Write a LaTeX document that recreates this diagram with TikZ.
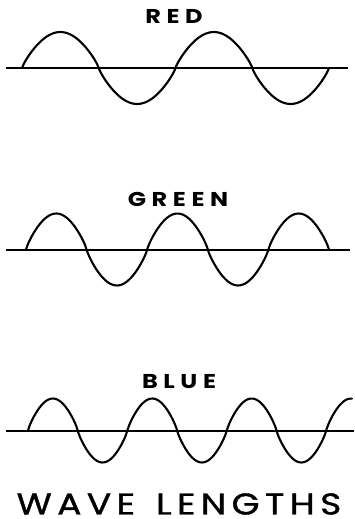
\documentclass[tikz,border=0pt]{standalone}
\usepackage{fontspec}
\setmainfont{Poppins}[FakeStretch=1.2]
\usetikzlibrary{positioning}

\begin{document}
\begin{tikzpicture}[x=1pt, y=-1pt,
            axis/.style={line width=2pt},
            wave/.style={line width=2.1pt, line join=round, line cap=round},
            colname/.style={inner sep=0pt, font=\fontsize{20}{20}\selectfont\bfseries\addfontfeature{LetterSpace=28}},
            heading/.style={inner sep=0pt, font=\fontsize{30}{30}\selectfont\addfontfeature{LetterSpace=18,FakeBold=1.2}},
            declare function={lobe(\t)=sin(\t)/(abs(sin(\t))+0.001)^0.18;}
        ]
            \useasboundingbox (0,0) rectangle (354,519);

            % red: two full waves
            \node [colname] (red) at (174,16) {RED};
            \draw [axis] (6,68) -- (348,68);
            \draw [wave] plot [domain=22:329, samples=160] (\x, {68 - 36*lobe((\x-22)/76.75*180)});

            % green: five half waves
            \node [colname] (green) at (178,199) {GREEN};
            \draw [axis] (6,249.5) -- (350,249.5);
            \draw [wave] plot [domain=26:329, samples=160] (\x, {249.5 - 36*lobe((\x-26)/60.6*180)});

            % blue: runs off the right edge
            \node [colname] (blue) at (179,382) {BLUE};
            \draw [axis] (6,430.5) -- (354,430.5);
            \draw [wave] plot [domain=28:352, samples=180] (\x, {430.5 - 32*lobe((\x-28)/49.7*180)});

            \node [heading] (title) at (179,504) {WAVE\hspace{0.7em}LENGTHS};
        \end{tikzpicture}
\end{document}
